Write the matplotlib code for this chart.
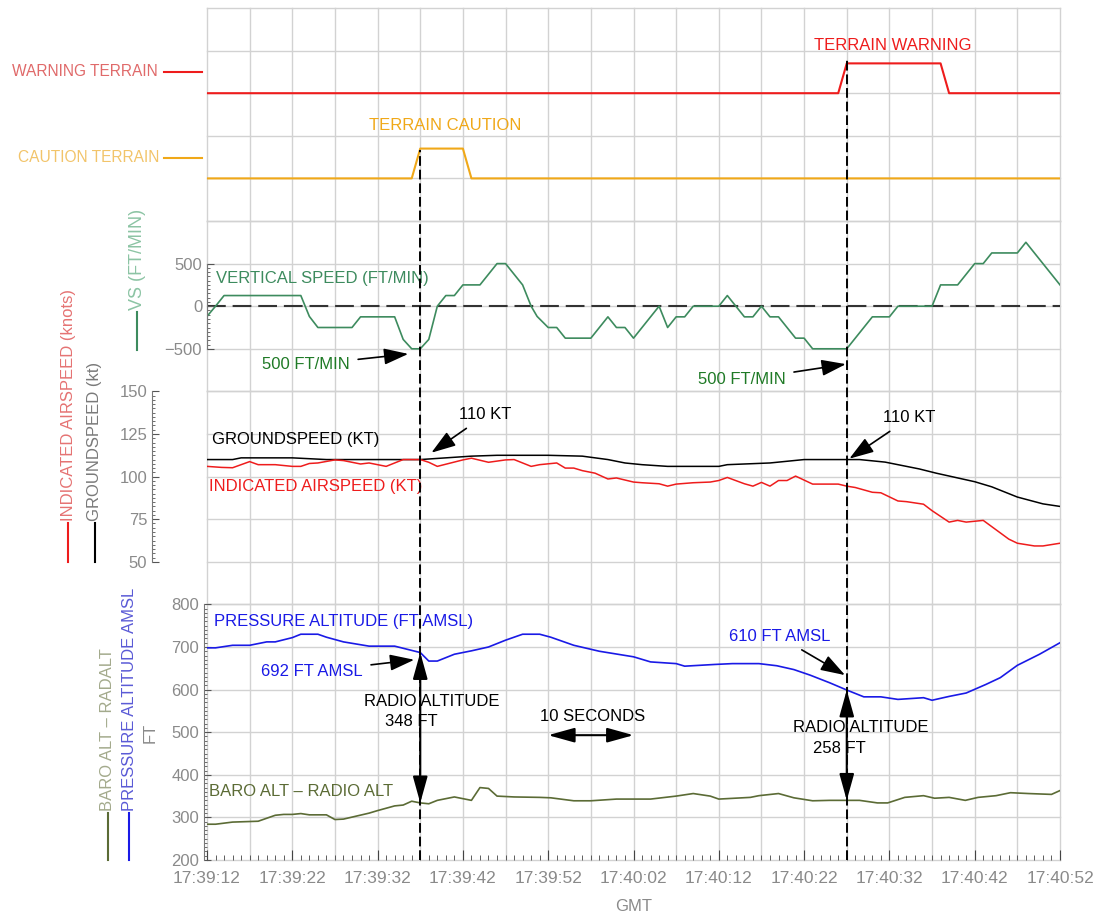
import matplotlib
matplotlib.use('Agg')
import matplotlib.pyplot as plt
import matplotlib.transforms as mtransforms
from matplotlib.lines import Line2D
from matplotlib.ticker import FixedLocator, MultipleLocator, FuncFormatter
import numpy as np

plt.rcParams['font.family'] = ['Liberation Sans', 'DejaVu Sans']

# time axis: seconds after 17:39:12 GMT
START = 17 * 3600 + 39 * 60 + 12

# discrete alerts (0 = off, 1 = on)
caution_t = [0, 24, 25, 30, 31, 100]
caution = [0, 0, 1, 1, 0, 0]
warning_t = [0, 74, 75, 86, 87, 100]
warning = [0, 0, 1, 1, 0, 0]

# vertical speed (ft/min)
vs_t = [0, 1, 2, 11, 12, 13, 17, 18, 22, 23,
        24, 25, 26, 27, 28, 29, 30, 32, 34, 35,
        37, 38, 38.7, 40, 41, 42, 45, 47, 48, 49,
        50, 53, 54, 55, 56, 57, 60, 61, 62, 63,
        64, 65, 66, 67, 69, 70, 71, 75, 78, 80,
        81, 85, 86, 88, 90, 91, 92, 95, 96, 100]
vs = [-120, 0, 125, 125, -120, -250, -250, -125, -125, -390,
      -500, -500, -390, 0, 125, 125, 250, 250, 500, 500,
      250, 0, -120, -250, -250, -375, -375, -125, -250, -250,
      -375, 0, -250, -125, -125, 0, 0, 125, 0, -125,
      -125, 0, -125, -125, -375, -375, -500, -500, -125, -125,
      0, 0, 250, 250, 500, 500, 625, 625, 750, 250]

# groundspeed (kt)
gs_t = [0, 3, 4, 10, 12, 14, 20, 25, 28, 31,
        34, 36, 40, 44, 47, 49, 51, 54, 60, 61,
        66, 70, 76.5, 79.5, 83.5, 85.5, 90, 92, 95, 98,
        100]
gs = [110, 110, 111, 111, 110.5, 110, 110, 110, 111, 112,
      112.5, 112.5, 112.5, 112, 110, 108, 107, 106, 106, 107,
      108, 110, 110, 108.5, 104.5, 102, 97, 94, 88, 84,
      82.5]

# indicated airspeed (kt)
ias_t = [0, 1.7, 3, 5, 6, 8, 10, 11, 12, 13,
         15, 16, 18, 19, 21, 23, 25, 26, 27, 30,
         31, 33, 35, 36, 38, 39, 41, 42, 43, 44,
         45.5, 47, 48, 50, 51, 53, 54, 55, 57, 59,
         60, 61, 63, 64, 65, 66, 67, 68, 69, 71,
         74, 75, 76, 78, 79, 81, 82, 84, 85, 87,
         88, 89, 91, 94, 95, 97, 98, 100]
ias = [106, 105.4, 105.2, 108.8, 107, 107, 106, 106, 107.7, 108,
       109.8, 109.4, 107.4, 108, 106, 110, 110, 108.4, 106, 109.8,
       110.8, 108.4, 109.8, 110, 106, 107, 108, 105, 105, 103.5,
       102, 98.6, 99.2, 96.8, 96.4, 95.8, 94.4, 95.6, 96.4, 96.8,
       97.7, 99.5, 95.8, 94.4, 96.6, 94.4, 97.7, 97.7, 100.3, 95.6,
       95.6, 94.4, 93.6, 90.8, 90.5, 85.7, 85.3, 83.8, 80, 73.3,
       74.3, 73.3, 74.3, 63.3, 60.9, 59.3, 59.3, 60.9]

# pressure altitude (ft AMSL)
pa_t = [0, 1, 3, 5, 7, 8, 10, 11, 13, 14,
        16, 19, 22, 24, 25, 26, 27, 29, 31, 33,
        35, 37, 39, 40.3, 43, 46, 50, 52, 55, 56,
        59.5, 61.6, 64.7, 66.8, 68.8, 70.7, 73, 75, 77, 79,
        81, 84, 85, 87, 89, 91.3, 93, 95, 97.6, 100]
pa = [698, 698, 704, 704, 712, 712, 722, 730, 730, 723,
      712, 702, 702, 692, 687, 667, 667, 683, 691, 700,
      716, 730, 730, 723, 704, 690, 677, 665, 661, 655,
      659, 661, 661, 656, 647, 634, 616, 599, 583, 583,
      577, 581, 575, 584, 592, 612, 628, 657, 683, 710]

# baro alt - radio alt (ft)
br_t = [0, 1, 3, 6, 8, 9, 10, 11, 12, 14,
        15, 16, 19, 20, 22, 23, 24, 25, 26, 27,
        29, 31, 32, 33, 34, 36, 39, 40.3, 43, 45,
        48, 52, 55, 57, 59, 60, 63.7, 64.7, 67, 68.8,
        71, 73, 75, 76.5, 78.6, 79.8, 81.8, 84, 85.3, 87,
        88.9, 90.4, 92.5, 94.2, 96.3, 99, 100]
br = [284, 284, 289, 291, 305, 307, 307, 309, 306, 306,
      295, 296, 310, 316, 327, 329, 338, 334, 332, 340,
      348, 340, 370, 368, 350, 348, 347, 346, 339, 339,
      343, 343, 350, 356, 350, 343, 347, 351, 356, 346,
      339, 340, 340, 340, 334, 334, 347, 351, 345, 347,
      340, 347, 351, 358, 356, 354, 363]

event_times = [25, 75]

RED = '#ee1c1c'
ORANGE = '#f0a818'
GREEN = '#3d8b5e'
DKGREEN = '#1f7a26'
BLUE = '#1a1ae6'
OLIVE = '#5b6b35'
GRID = '#d2d2d2'
TXT = '#8a8a8a'
FS = 12

W, H = 1102, 913
ROW = 852 / 20
fig = plt.figure(figsize=(W / 100, H / 100), dpi=100)


def rect(r0, r1):
    return [207 / W, 1 - (8 + r1 * ROW) / H, 853 / W, (r1 - r0) * ROW / H]


def ftext(x, y, s, size=FS, **kw):
    fig.text(x / W, 1 - y / H, s, fontsize=size, **kw)


def fline(x0, y0, x1, y1, **kw):
    fig.add_artist(Line2D([x0 / W, x1 / W], [1 - y0 / H, 1 - y1 / H],
                          transform=fig.transFigure, **kw))


ax_ev = fig.add_axes(rect(0, 5))
ax_vs = fig.add_axes(rect(5, 9))
ax_spd = fig.add_axes(rect(9, 14))
ax_alt = fig.add_axes(rect(14, 20))

ax_ev.set_ylim(0, 5)
ax_vs.set_ylim(-1000, 1000)
ax_spd.set_ylim(25, 150)
ax_alt.set_ylim(200, 800)
hlines = {ax_ev: np.arange(0, 6, 1), ax_vs: np.arange(-1000, 1001, 500),
          ax_spd: np.arange(25, 151, 25), ax_alt: np.arange(200, 801, 100)}

for ax in [ax_ev, ax_vs, ax_spd, ax_alt]:
    ax.set_xlim(0, 100)
    ax.patch.set_visible(False)
    for s in ax.spines.values():
        s.set_visible(False)
    for t in range(0, 101, 5):
        ax.axvline(t, color=GRID, lw=1, zorder=0, clip_on=False)
    for y in hlines[ax]:
        ax.axhline(y, color=GRID, lw=1, zorder=0, clip_on=False)
    ax.tick_params(axis='x', which='both', bottom=False, labelbottom=False)
    ax.tick_params(axis='y', which='both', direction='in', colors='#555555',
                   labelcolor=TXT, labelsize=FS)

# --- discrete alerts
ax_ev.tick_params(axis='y', which='both', left=False, labelleft=False)
ax_ev.plot(warning_t, 3 + 0.7 * np.array(warning), color=RED, lw=1.5)
ax_ev.plot(caution_t, 1 + 0.7 * np.array(caution), color=ORANGE, lw=1.5)
ax_ev.text(27.9, 2.25, 'TERRAIN CAUTION', color=ORANGE, ha='center', va='center', fontsize=FS)
ax_ev.text(80.4, 4.13, 'TERRAIN WARNING', color=RED, ha='center', va='center', fontsize=FS)
ftext(158, 72, 'WARNING TERRAIN', size=11.2, color='#e06a6a', ha='right', va='center')
fline(164, 72, 202, 72, color=RED, lw=1.5)
ftext(159, 158, 'CAUTION TERRAIN', size=11.2, color='#f2c46a', ha='right', va='center')
fline(164, 158, 202, 158, color=ORANGE, lw=1.5)

# --- vertical speed
ax_vs.spines['left'].set_visible(True)
ax_vs.spines['left'].set_bounds(-500, 500)
ax_vs.spines['left'].set_color('#777777')
ax_vs.set_yticks([-500, 0, 500])
ax_vs.yaxis.set_minor_locator(FixedLocator(np.arange(-500, 501, 50)))
ax_vs.tick_params(axis='y', which='major', length=5)
ax_vs.tick_params(axis='y', which='minor', length=2.5)
ax_vs.axhline(0, color='#333333', lw=1.5, dashes=(9, 3.3), zorder=1)
ax_vs.plot(vs_t, vs, color=GREEN, lw=1.2, zorder=2)
ax_vs.text(1.0, 320, 'VERTICAL SPEED (FT/MIN)', color=GREEN, ha='left', va='center', fontsize=FS)
arrow_kw = dict(arrowstyle='-|>,head_length=0.75,head_width=0.25', color='black',
                lw=1.2, mutation_scale=20, shrinkA=4, shrinkB=0)
ax_vs.annotate('500 FT/MIN', xy=(23.6, -560), xytext=(11.6, -690), color=DKGREEN,
               ha='center', va='center', fontsize=FS, arrowprops=arrow_kw)
ax_vs.annotate('500 FT/MIN', xy=(74.9, -680), xytext=(62.7, -866), color=DKGREEN,
               ha='center', va='center', fontsize=FS, arrowprops=arrow_kw)
fline(137, 312, 137, 350, color=GREEN, lw=1.5)
ftext(137, 310, 'VS (FT/MIN)', size=13, color='#8cc4a4', rotation=90, ha='center', va='bottom')

# --- speeds
sp = ax_spd.spines['left']
sp.set_visible(True)
sp.set_position(('outward', 55 * 0.72))
sp.set_bounds(50, 150)
sp.set_color('#777777')
ax_spd.set_yticks(np.arange(50, 151, 25))
ax_spd.yaxis.set_minor_locator(FixedLocator(np.arange(50, 150.1, 2.5)))
ax_spd.tick_params(axis='y', which='major', length=5)
ax_spd.tick_params(axis='y', which='minor', length=2.5)
ax_spd.plot(gs_t, gs, color='black', lw=1.1, zorder=2)
ax_spd.plot(ias_t, ias, color=RED, lw=1.1, zorder=2)
ax_spd.text(0.6, 121.5, 'GROUNDSPEED (KT)', color='black', ha='left', va='center', fontsize=FS)
ax_spd.text(0.2, 94, 'INDICATED AIRSPEED (KT)', color=RED, ha='left', va='center', fontsize=FS)
ax_spd.annotate('110 KT', xy=(26.3, 114), xytext=(29.6, 136.2), color='black',
                ha='left', va='center', fontsize=FS, arrowprops=arrow_kw)
ax_spd.annotate('110 KT', xy=(75.3, 110.5), xytext=(79.3, 134.4), color='black',
                ha='left', va='center', fontsize=FS, arrowprops=arrow_kw)
fline(68, 523, 68, 562, color=RED, lw=1.5)
ftext(68, 521, 'INDICATED AIRSPEED (knots)', color='#e57373', rotation=90, ha='center', va='bottom')
fline(95, 523, 95, 562, color='black', lw=1.5)
ftext(95, 521, 'GROUNDSPEED (kt)', color='#7a7a7a', rotation=90, ha='center', va='bottom')

# --- altitudes
sa = ax_alt.spines['left']
sa.set_visible(True)
sa.set_position(('outward', 3 * 0.72))
sa.set_bounds(200, 800)
sa.set_color('#777777')
ax_alt.set_yticks(np.arange(200, 801, 100))
ax_alt.yaxis.set_minor_locator(FixedLocator(np.arange(200, 801, 10)))
ax_alt.tick_params(axis='y', which='major', length=5)
ax_alt.tick_params(axis='y', which='minor', length=2.5)
ax_alt.plot(pa_t, pa, color=BLUE, lw=1.2, zorder=2)
ax_alt.plot(br_t, br, color=OLIVE, lw=1.2, zorder=2)
ax_alt.text(0.8, 761, 'PRESSURE ALTITUDE (FT AMSL)', color=BLUE, ha='left', va='center', fontsize=FS)
ax_alt.text(0.2, 360, 'BARO ALT \u2013 RADIO ALT', color=OLIVE, ha='left', va='center', fontsize=FS)
ax_alt.annotate('692 FT AMSL', xy=(24.3, 670), xytext=(12.3, 642), color=BLUE,
                ha='center', va='center', fontsize=FS, arrowprops=arrow_kw)
ax_alt.annotate('610 FT AMSL', xy=(74.8, 634), xytext=(67.1, 724), color=BLUE,
                ha='center', va='center', fontsize=FS, arrowprops=arrow_kw)
dbl_kw = dict(arrowstyle='<|-|>,head_length=0.9,head_width=0.25', color='black',
              lw=1.5, mutation_scale=18, shrinkA=0, shrinkB=0)
for t in event_times:
    ax_alt.annotate('', xy=(t, np.interp(t, br_t, br)), xytext=(t, np.interp(t, pa_t, pa)),
                    arrowprops=dbl_kw)
ax_alt.text(26.4, 571, 'RADIO ALTITUDE', color='black', ha='center', va='center', fontsize=FS)
ax_alt.text(24.0, 526, '348 FT', color='black', ha='center', va='center', fontsize=FS)
ax_alt.text(76.6, 510, 'RADIO ALTITUDE', color='black', ha='center', va='center', fontsize=FS)
ax_alt.text(74.1, 461, '258 FT', color='black', ha='center', va='center', fontsize=FS)
ax_alt.annotate('', xy=(50, 493), xytext=(40, 493), arrowprops=dbl_kw)
ax_alt.text(45.2, 538, '10 SECONDS', color='black', ha='center', va='center', fontsize=FS)
fline(108, 813, 108, 860, color=OLIVE, lw=1.5)
ftext(108, 811, 'BARO ALT \u2013 RADALT', color='#a3aa8c', rotation=90, ha='center', va='bottom')
fline(129, 813, 129, 860, color=BLUE, lw=1.5)
ftext(129, 811, 'PRESSURE ALTITUDE AMSL', color='#5a5ad6', rotation=90, ha='center', va='bottom')
ftext(150, 733, 'FT', color=TXT, rotation=90, ha='center', va='center')

# time axis
ax_alt.xaxis.set_major_locator(MultipleLocator(10))
ax_alt.xaxis.set_minor_locator(MultipleLocator(1))


def hms(x, pos):
    s = START + int(round(x))
    return f'{s // 3600:02d}:{(s % 3600) // 60:02d}:{s % 60:02d}'


ax_alt.xaxis.set_major_formatter(FuncFormatter(hms))
ax_alt.tick_params(axis='x', which='both', bottom=True, labelbottom=True, direction='in',
                   colors='#444444', labelcolor=TXT, labelsize=12.5, pad=8)
ax_alt.tick_params(axis='x', which='major', length=7)
ax_alt.tick_params(axis='x', which='minor', length=3.5)
ax_alt.set_xlabel('GMT', color=TXT, fontsize=FS, labelpad=9)

# dashed event lines spanning all panels
to_fig = fig.transFigure.inverted()
tops = [to_fig.transform(ax_ev.transData.transform((0, 1.67)))[1],
        to_fig.transform(ax_ev.transData.transform((0, 3.85)))[1]]
bottom = ax_alt.get_position().y0
blend = mtransforms.blended_transform_factory(ax_alt.transData, fig.transFigure)
for t, top in zip(event_times, tops):
    fig.add_artist(Line2D([t, t], [bottom, top], transform=blend, color='black',
                          lw=1.4, dashes=(5, 2), zorder=5))

fig.savefig('out.png', dpi=100)
